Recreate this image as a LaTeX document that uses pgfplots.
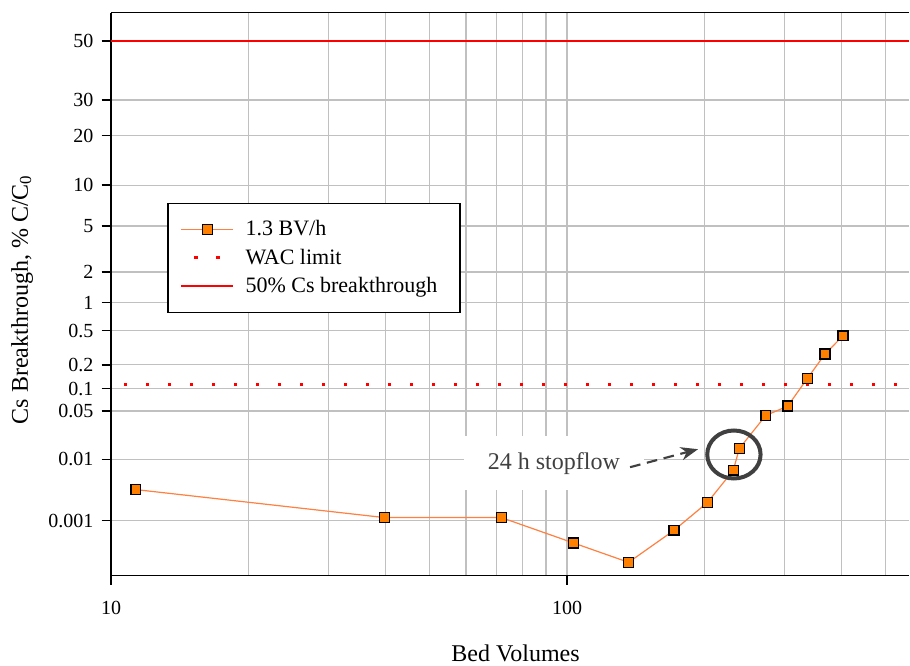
\documentclass[12pt,border=0pt]{standalone}
\usepackage{fontspec}
\setmainfont{Liberation Serif}
\usepackage{pgfplots}
\pgfplotsset{compat=1.18}
\usetikzlibrary{arrows.meta}
\definecolor{mkorange}{RGB}{255,128,0}
\definecolor{lnorange}{RGB}{255,128,64}
\definecolor{gridgray}{RGB}{192,192,192}
\definecolor{anngray}{RGB}{64,64,64}
% Bed volumes vs breakthrough, y stored as probit (normal quantile) of the percent value
\pgfplotstableread{
bv     z
11.33  -3.988
39.8   -4.237
71.8   -4.237
103.4  -4.463
136.5  -4.635
171.7  -4.350
203.2  -4.103
231.6  -3.816
238.7  -3.623
272.8  -3.329
304.8  -3.246
336.5  -3.000
368.0  -2.783
403.0  -2.620
}\datatable
\begin{document}
\begin{tikzpicture}
\begin{axis}[
  name=ax,
  scale only axis,
  width=598.4pt, height=422.3pt,
  xmode=log,
  xmin=10, xmax=562,
  ymin=-4.7534, ymax=0.2533,
  axis x line*=box,
  axis y line*=left,
  every outer y axis line/.append style={-},
  every outer x axis line/.append style={-},
  axis line style={black, line width=1.2pt},
  xtick={10,100}, xticklabels={10,100},
  minor xtick={20,30,40,50,60,70,80,90,200,300,400,500},
  xtick pos=bottom,
  ytick pos=left,
  ytick={-4.2649,-3.7190,-3.2905,-3.0902,-2.8782,-2.5758,-2.3263,-2.0537,-1.6449,-1.2816,-0.8416,-0.5244,0},
  yticklabels={0.001,0.01,0.05,0.1,0.2,0.5,1,2,5,10,20,30,50},
  tick align=outside,
  major tick length=7pt,
  minor tick length=0pt,
  tick style={black, line width=1.1pt},
  grid=major,
  xminorgrids=true,
  major grid style={gridgray, line width=1pt},
  minor grid style={gridgray, line width=1pt},
  /pgf/number format/assume math mode=true,
  ticklabel style={font=\fontsize{15}{18}\selectfont},
  xticklabel style={yshift=-8pt},
  yticklabel style={xshift=-2pt},
  xlabel={Bed Volumes},
  ylabel={Cs Breakthrough, \% C/C\textsubscript{0}},
  every axis x label/.style={at={(axis description cs:0.507,-0.1385)}, anchor=center, font=\fontsize{18}{21}\selectfont},
  every axis y label/.style={at={(axis description cs:-0.1115,0.49)}, anchor=center, rotate=90, font=\fontsize{18}{21}\selectfont},
  legend style={at={(0.0706,0.6625)}, anchor=north west, draw=black, line width=1pt, fill=white,
    font=\fontsize{16.5}{19}\selectfont, row sep=4.1pt, inner xsep=9pt, inner ysep=11pt,
    nodes={inner xsep=8pt}},
  legend cell align=left,
  legend image code/.code={\draw[mark repeat=2,mark phase=2,#1] plot coordinates {(0pt,0pt) (19.5pt,0pt) (39pt,0pt)};},
]
\addplot[lnorange, line width=0.9pt, mark=square*, mark size=3.7pt,
  mark options={fill=mkorange, draw=black, line width=1.1pt, solid}] table[x=bv, y=z] {\datatable};
\addlegendentry{1.3 BV/h}
\addplot[red, line width=2.2pt, dash pattern=on 2.5pt off 14pt, dash phase=6.75pt] coordinates {(10,-3.050) (562,-3.050)};
\addlegendentry{WAC limit}
\addplot[red, line width=1.6pt] coordinates {(10,0) (562,0)};
\addlegendentry{50\% Cs breakthrough}
% annotation
\draw[anngray, line width=3pt] (axis cs:232.3,-3.676) ellipse [x radius=20pt, y radius=18pt];
\node[fill=white, text=anngray, inner xsep=18pt, inner ysep=12pt, font=\fontsize{18}{21}\selectfont] at (axis cs:93.6,-3.753) {24 h stopflow};
\draw[anngray, line width=1.6pt, dash pattern=on 8pt off 5pt, -{Stealth[length=13pt,width=10pt]}] (axis cs:137.5,-3.789) -- (axis cs:193.8,-3.629);
\end{axis}
\pgfresetboundingbox
\path (ax.south west) ++(-83.25pt,-67.75pt) rectangle ++(682.5pt,499.5pt);
\end{tikzpicture}
\end{document}
